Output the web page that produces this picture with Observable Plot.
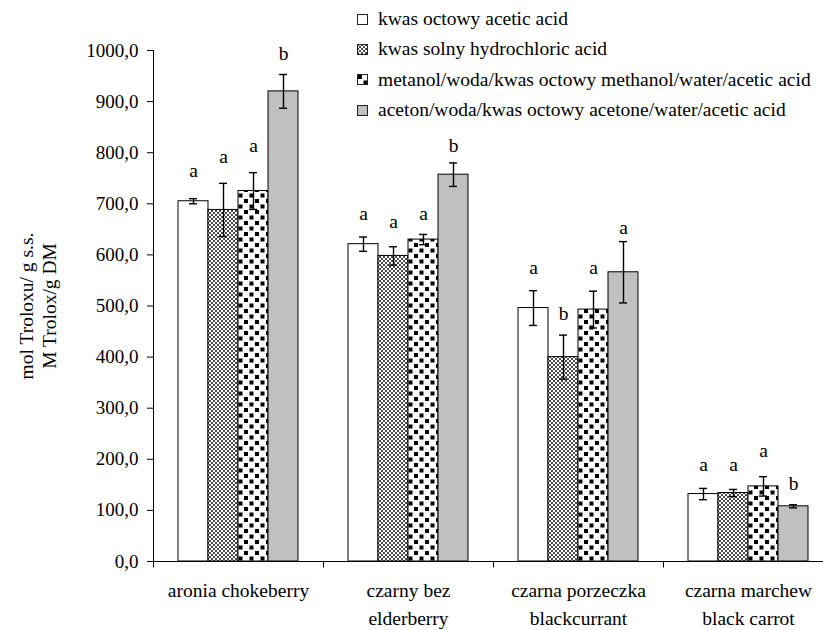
<!DOCTYPE html>
<html>
<head>
<meta charset="utf-8">
<script src="https://cdn.jsdelivr.net/npm/d3@7"></script>
<script src="https://cdn.jsdelivr.net/npm/@observablehq/plot@0.6"></script>
<style>
  html, body { margin: 0; padding: 0; background: white; }
  body { width: 823px; height: 630px; overflow: hidden; position: relative; font-family: "Liberation Serif", serif; }
  #chart { position: absolute; left: 0; top: 0; }
  #legend { position: absolute; left: 357px; top: 4px; font-size: 19.5px; color: black; font-family: "Liberation Serif", serif; }
  #legend .row { display: flex; align-items: center; height: 30.3px; white-space: nowrap; }
  #legend svg { margin-right: 10px; flex: none; }
</style>
</head>
<body>
<svg width="0" height="0" style="position:absolute">
  <defs>
    <pattern id="hatch" width="4" height="4" patternUnits="userSpaceOnUse">
      <rect width="4" height="4" fill="white"/>
      <rect width="2" height="2" fill="#4a4a4a"/>
      <rect x="2" y="2" width="2" height="2" fill="#4a4a4a"/>
    </pattern>
    <pattern id="dots" width="11" height="11" patternUnits="userSpaceOnUse">
      <rect width="11" height="11" fill="white"/>
      <rect x="1" y="1" width="4" height="4" fill="black"/>
      <rect x="6.5" y="6.5" width="4" height="4" fill="black"/>
    </pattern>
  </defs>
</svg>
<div id="chart"></div>
<div id="legend"></div>
<script>
// ---- data ----
const categories = ["aronia chokeberry", "czarny bez\nelderberry", "czarna porzeczka\nblackcurrant", "czarna marchew\nblack carrot"];
const series = [
  "kwas octowy acetic acid",
  "kwas solny hydrochloric acid",
  "metanol/woda/kwas octowy methanol/water/acetic acid",
  "aceton/woda/kwas octowy acetone/water/acetic acid"
];
// values per category, in series order
const aceticAcid   = [705, 621, 496, 132];
const hydrochloric = [688, 598, 400, 134];
const methanolMix  = [725, 630, 493, 147];
const acetoneMix   = [920, 757, 566, 108];
// standard deviations
const errAcetic    = [5, 14, 34, 11];
const errHcl       = [52, 18, 43, 7];
const errMethanol  = [36, 10, 36, 19];
const errAcetone   = [33, 23, 60, 3];
// significance letters
const lettersAcetic   = ["a", "a", "a", "a"];
const lettersHcl      = ["a", "a", "b", "a"];
const lettersMethanol = ["a", "a", "a", "a"];
const lettersAcetone  = ["b", "b", "a", "b"];
// letter heights (value units)
const letterAtAcetic   = [753, 669, 562, 178];
const letterAtHcl      = [779, 653, 472, 178];
const letterAtMethanol = [802, 669, 562, 204];
const letterAtAcetone  = [982, 801, 640, 139];
const yTicks = [0, 100, 200, 300, 400, 500, 600, 700, 800, 900, 1000];
const yLabel = "mol Troloxu/ g s.s.\nM Trolox/g DM";

const seriesFills = ["white", "url(#hatch)", "url(#dots)", "#c0c0c0"];

const valueSets = [aceticAcid, hydrochloric, methanolMix, acetoneMix];
const errSets = [errAcetic, errHcl, errMethanol, errAcetone];
const letterSets = [lettersAcetic, lettersHcl, lettersMethanol, lettersAcetone];
const letterAtSets = [letterAtAcetic, letterAtHcl, letterAtMethanol, letterAtAcetone];

const data = [];
categories.forEach((cat, ci) => {
  series.forEach((s, si) => {
    data.push({
      cat, series: s,
      value: valueSets[si][ci],
      err: errSets[si][ci],
      letter: letterSets[si][ci],
      letterAt: letterAtSets[si][ci]
    });
  });
});

const tickSymbol = { draw(ctx) { ctx.moveTo(0, 0); ctx.lineTo(0, 6); } };

const chart = Plot.plot({
  width: 834,
  height: 630,
  marginTop: 50,
  marginBottom: 69,
  marginLeft: 152,
  marginRight: 0,
  style: { fontFamily: "'Liberation Serif', serif", fontSize: "19px", color: "black", background: "white", maxWidth: "none" },
  fx: { domain: categories, padding: 0, label: null },
  x: { domain: series, paddingInner: 0, paddingOuter: 0.75, axis: null },
  y: {
    domain: [0, 1000], ticks: yTicks, tickFormat: d => d.toFixed(1).replace(".", ","),
    label: null, line: true, tickSize: 6, tickPadding: 9
  },
  color: { type: "ordinal", domain: series, range: seriesFills },
  marks: [
    Plot.barY(data, { fx: "cat", x: "series", y: "value", fill: "series", stroke: "black", strokeWidth: 1 }),
    Plot.ruleX(data, { fx: "cat", x: "series", y1: d => d.value - d.err, y2: d => d.value + d.err, stroke: "black", strokeWidth: 1.4 }),
    Plot.tickY(data, { fx: "cat", x: "series", y: d => d.value + d.err, insetLeft: 11, insetRight: 11, stroke: "black", strokeWidth: 1.4 }),
    Plot.tickY(data, { fx: "cat", x: "series", y: d => d.value - d.err, insetLeft: 11, insetRight: 11, stroke: "black", strokeWidth: 1.4 }),
    Plot.text(data, { fx: "cat", x: "series", y: "letterAt", text: "letter", lineAnchor: "bottom", fontSize: 19.5, fill: "black" }),
    Plot.ruleY([0], { stroke: "black", strokeWidth: 1.2 }),
    Plot.dot(categories, { fx: d => d, frameAnchor: "bottom-left", symbol: tickSymbol, fill: "none", stroke: "black", strokeWidth: 1 }),
    Plot.axisFx({ anchor: "bottom", tickSize: 0, tickPadding: 15, lineHeight: 1.45, fontSize: 19.5, label: null, fill: "black" }),
    Plot.text([{ fx: categories[0], t: yLabel }], { fx: "fx", text: "t", frameAnchor: "left", textAnchor: "middle", rotate: -90, dx: -116, lineHeight: 1.15, fontSize: 19.5, fill: "black" })
  ]
});
document.getElementById("chart").appendChild(chart);

// legend
const legend = d3.select("#legend");
series.forEach((s, i) => {
  const row = legend.append("div").attr("class", "row");
  const sw = row.append("svg").attr("width", 11).attr("height", 11);
  sw.append("rect").attr("x", 0.5).attr("y", 0.5).attr("width", 10).attr("height", 10)
    .attr("fill", seriesFills[i]).attr("stroke", "#222").attr("stroke-width", 1);
  row.append("span").text(s);
});
</script>
</body>
</html>
